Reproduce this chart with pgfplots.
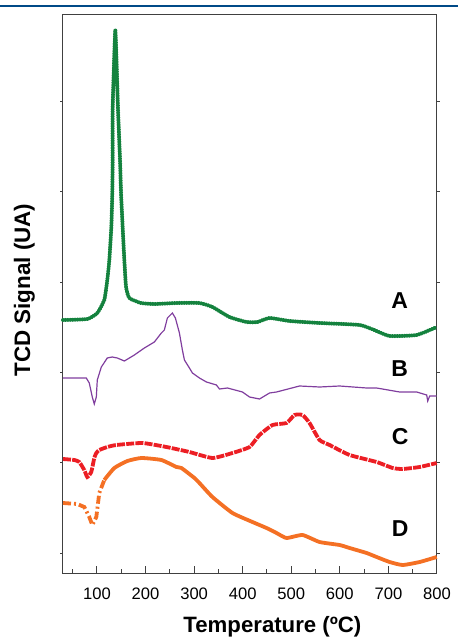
\documentclass[border=0pt]{standalone}
\usepackage{pgfplots}
\pgfplotsset{compat=1.18}
\usepackage{fontspec}
\setmainfont{Liberation Sans}
\definecolor{hdrblue}{RGB}{0,74,135}
\definecolor{cA}{RGB}{20,130,62}
\definecolor{cB}{RGB}{128,62,158}
\definecolor{cC}{RGB}{236,30,36}
\definecolor{cD}{RGB}{244,112,36}
\begin{document}
\begin{tikzpicture}
\path[use as bounding box] (-31.5pt,-32pt) rectangle (197.5pt,286.5pt);
\draw[hdrblue, line width=1pt] (-31.5pt,283.5pt) -- (197.5pt,283.5pt);
\begin{axis}[
  at={(0pt,0pt)}, anchor=south west,
  scale only axis, width=187pt, height=279pt,
  xmin=30, xmax=800, ymin=0, ymax=558,
  xtick={100,200,...,800},
  minor xtick={50,150,...,750},
  xtick pos=left,
  ytick=\empty,
  major tick length=3.5pt, minor tick length=2pt,
  every tick/.style={black!75, line width=0.5pt},
  axis line style={black!75, line width=0.5pt},
  clip=false,
  tick label style={font=\fontsize{8.3}{10}\selectfont, /pgf/number format/assume math mode=true},
  xticklabel style={yshift=-4pt},
  xlabel={Temperature (ºC)},
  xlabel style={at={(axis description cs:0.56,-0.1075)}, anchor=base, font=\fontsize{11.1}{13}\selectfont\bfseries},
  ylabel={TCD Signal (UA)},
  ylabel style={at={(axis description cs:-0.088,0.507)}, rotate=0, anchor=base, font=\fontsize{11.2}{13}\selectfont\bfseries},
]
% A
\addplot[cA, line width=2pt, line cap=round, dash pattern=on 0.01pt off 1.2pt, smooth, tension=0.3] coordinates {
(30,253) (80,254) (100.6,260) (115,273) (121.2,293) (125.4,313) (129.5,346) (131.5,380) (132.2,413) (132.2,463) (134.6,503) (137.7,543) (140.8,503) (143.3,463) (147.4,413) (149.5,380) (152.8,346) (156.3,313) (159.8,286) (166.6,275) (190.7,270) (218.1,269) (263.5,270) (310.9,270) (337.7,266) (372.7,256) (407.8,251) (430.4,251) (455.2,255) (496.4,252) (558.2,250) (640.7,248) (675.7,242) (702.5,237) (758.2,238) (799.5,246)
};
% B
\addplot[cB, line width=0.6pt] coordinates {
(30,195) (77.9,195) (84.1,190) (90.3,176) (94.4,169) (98.6,176) (100.6,193) (108.9,206) (121.2,215) (131.5,216) (141.8,215) (156.3,212) (176.9,218) (197.5,225) (218.1,231) (232.5,240) (238.7,243) (244.9,255) (255.2,260) (261.4,255) (269.7,240) (275.8,223) (280.0,213) (290.3,205) (296.5,200) (310.9,195) (325.3,191) (345.9,188) (352.1,184) (368.6,185) (399.5,181) (414.0,176) (434.6,174) (455.2,180) (469.6,181) (517.0,187) (558.2,186) (599.5,187) (655.1,185) (675.7,185) (723.2,181) (758.2,181) (778.8,178) (780.9,172) (785.0,177) (799.5,177)
};
% C
\addplot[cC, line width=1.9pt, dash pattern=on 4pt off 0.6pt, smooth, tension=0.3] coordinates {
(30,114) (53.2,113) (63.5,111) (73.8,103) (80.0,96) (88.2,101) (94.4,115) (98.6,120) (104.7,123) (121.2,126) (139.8,128) (193.4,130) (242.9,126) (290.3,121) (337.7,115) (378.9,120) (414.0,126) (434.6,138) (461.4,148) (490.2,150) (506.7,158) (523.2,158) (537.6,150) (558.2,133) (578.8,128) (620.1,118) (675.7,111) (708.7,105) (729.3,104) (764.4,106) (799.5,110)
};
% D
\addplot[cD, line width=1.9pt, dash pattern=on 4pt off 1.5pt on 1pt off 1.5pt] coordinates {
(30,70) (59.4,69) (73.8,66) (84.1,56) (90.3,48) (98.6,56) (104.7,80) (115.0,93)
};
\addplot[cD, line width=1.9pt, smooth, tension=0.3] coordinates {
(115.0,93) (135.7,105) (162.5,112) (191.3,115) (232.5,113) (263.5,106) (273.8,105) (300.6,95) (310.9,90) (337.7,76) (378.9,60) (420.1,51) (449.0,45) (469.6,40) (490.2,35) (523.2,38) (558.2,31) (599.5,28) (620.1,25) (655.1,20) (675.7,16) (702.5,11) (729.3,8) (764.4,11) (799.5,16)
};
\pgfplotsinvokeforeach{20,110,200,290.5,381,471}{
  \draw[black!75, line width=0.5pt] (axis cs:30,#1) -- ([xshift=-1.5pt]axis cs:30,#1);
  \draw[black!75, line width=0.5pt] (axis cs:800,#1) -- ([xshift=1.5pt]axis cs:800,#1);
}
\node[font=\fontsize{11.5}{13}\selectfont\bfseries] at (axis cs:723,272) {A};
\node[font=\fontsize{11.5}{13}\selectfont\bfseries] at (axis cs:723,204) {B};
\node[font=\fontsize{11.5}{13}\selectfont\bfseries] at (axis cs:724,136) {C};
\node[font=\fontsize{11.5}{13}\selectfont\bfseries] at (axis cs:724,44) {D};
\end{axis}
\end{tikzpicture}
\end{document}
